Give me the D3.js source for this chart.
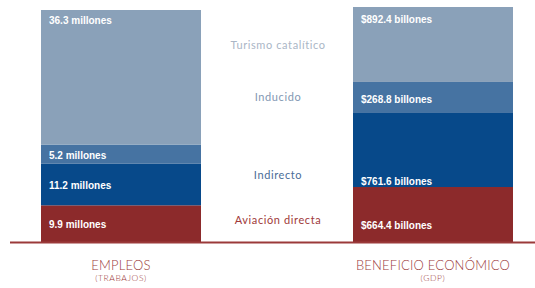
<!DOCTYPE html>
<html>
<head>
<meta charset="utf-8">
<script src="https://cdn.jsdelivr.net/npm/d3@7"></script>
<style>
  body { margin: 0; background: #fff; }
  svg { display: block; font-family: Lato, "Open Sans", sans-serif; }
</style>
</head>
<body>
<svg id="chart"></svg>
<script>
// categories, bottom to top
const categories = ["Aviación directa", "Indirecto", "Inducido", "Turismo catalítico"];
const bars = ["EMPLEOS", "BENEFICIO ECONÓMICO"];
const barSubs = ["(TRABAJOS)", "(GDP)"];

// jobs, millions
const jobs = [9.9, 11.2, 5.2, 36.3];
const jobLabels = ["9.9 millones", "11.2 millones", "5.2 millones", "36.3 millones"];

// GDP share of total, % (read from drawn heights)
const gdpShare = [23.4, 31.5, 13.2, 31.9];
const gdpLabels = ["$664.4 billones", "$761.6 billones", "$268.8 billones", "$892.4 billones"];

const width = 535;
const height = 288;
const baseY = 242;

const colors = ["#8c2a2b", "#07498a", "#4673a2", "#8aa1b9"];
const midColors = ["#a03a3a", "#4a6d98", "#8298b3", "#aab6c6"];

const svg = d3.select("#chart")
  .attr("width", width)
  .attr("height", height);

const bw = 160;
const xPos = {"EMPLEOS": 41, "BENEFICIO ECONÓMICO": 353};

const yJobs = d3.scaleLinear().domain([0, d3.sum(jobs)]).range([baseY, 10]);
const yGdp = d3.scaleLinear().domain([0, d3.sum(gdpShare)]).range([baseY, 7]);

function stackUp(vals) {
  let acc = 0;
  return vals.map(v => { const s = [acc, acc + v]; acc += v; return s; });
}

const series = [
  {bar: bars[0], y: yJobs, segs: stackUp(jobs), labels: jobLabels},
  {bar: bars[1], y: yGdp, segs: stackUp(gdpShare), labels: gdpLabels}
];

// label vertical placement per category (relative to segment top)
const labelDy = [
  [19, 22, 11, 10],
  [38, 69, 18, 12]
];

series.forEach((s, bi) => {
  const g = svg.append("g");
  g.selectAll("rect")
    .data(s.segs)
    .join("rect")
    .attr("x", xPos[s.bar])
    .attr("width", bw)
    .attr("y", d => s.y(d[1]))
    .attr("height", d => s.y(d[0]) - s.y(d[1]))
    .attr("fill", (d, i) => colors[i]);

  g.selectAll("text")
    .data(s.segs)
    .join("text")
    .attr("x", xPos[s.bar] + 8)
    .attr("y", (d, i) => s.y(d[1]) + labelDy[bi][i])
    .attr("dy", "0.35em")
    .attr("fill", "#fff")
    .attr("font-size", 10)
    .attr("font-weight", "bold")
    .attr("font-family", "Liberation Sans, sans-serif")
    .text((d, i) => s.labels[i]);
});

// middle category labels, positioned from the GDP bar
const midDy = [33, 62, 15, 38];
const gdpSegs = series[1].segs;
svg.append("g").selectAll("text")
  .data(categories)
  .join("text")
  .attr("x", 278)
  .attr("y", (d, i) => yGdp(gdpSegs[i][1]) + midDy[i])
  .attr("dy", "0.35em")
  .attr("text-anchor", "middle")
  .attr("fill", (d, i) => midColors[i])
  .attr("font-size", 11)
  .attr("letter-spacing", 0.6)
  .text(d => d);

// baseline
svg.append("line")
  .attr("x1", 10).attr("x2", width)
  .attr("y1", baseY + 0.5).attr("y2", baseY + 0.5)
  .attr("stroke", "#9b3a3a")
  .attr("stroke-width", 2);

// bar titles
bars.forEach((b, i) => {
  const cx = xPos[b] + bw / 2;
  svg.append("text")
    .attr("x", cx).attr("y", 270)
    .attr("text-anchor", "middle")
    .attr("fill", "#9b3a3a")
    .attr("font-size", 13)
    .attr("font-weight", 300)
    .attr("letter-spacing", 0.2)
    .text(b);
  svg.append("text")
    .attr("x", cx).attr("y", 281)
    .attr("text-anchor", "middle")
    .attr("fill", "#9b3a3a")
    .attr("font-size", 8.5)
    .attr("font-weight", 300)
    .attr("letter-spacing", 0.6)
    .text(barSubs[i]);
});
</script>
</body>
</html>
